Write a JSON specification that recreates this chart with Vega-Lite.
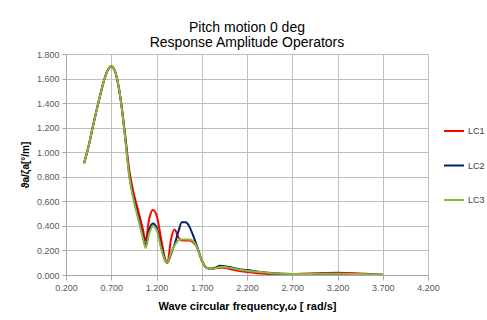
{
  "$schema": "https://vega.github.io/schema/vega-lite/v6.json",
  "width": 362,
  "height": 221,
  "autosize": {"type": "none"},
  "padding": {"left": 66, "top": 54, "right": 59, "bottom": 45},
  "background": "white",
  "title": {
    "text": ["Pitch motion 0 deg", "Response Amplitude Operators"],
    "font": "Liberation Sans",
    "fontSize": 14,
    "fontWeight": "normal",
    "color": "#000000",
    "lineHeight": 15,
    "anchor": "middle",
    "offset": 0
  },
  "data": {
    "values": [
      {"w": 0.40, "rao": 0.91, "lc": "LC1"}, {"w": 0.45, "rao": 1.05, "lc": "LC1"},
      {"w": 0.50, "rao": 1.22, "lc": "LC1"}, {"w": 0.55, "rao": 1.38, "lc": "LC1"},
      {"w": 0.60, "rao": 1.53, "lc": "LC1"}, {"w": 0.65, "rao": 1.65, "lc": "LC1"},
      {"w": 0.70, "rao": 1.70, "lc": "LC1"}, {"w": 0.75, "rao": 1.64, "lc": "LC1"},
      {"w": 0.80, "rao": 1.45, "lc": "LC1"}, {"w": 0.85, "rao": 1.16, "lc": "LC1"},
      {"w": 0.90, "rao": 0.85, "lc": "LC1"}, {"w": 0.95, "rao": 0.66, "lc": "LC1"},
      {"w": 1.00, "rao": 0.52, "lc": "LC1"}, {"w": 1.05, "rao": 0.37, "lc": "LC1"},
      {"w": 1.08, "rao": 0.28, "lc": "LC1"}, {"w": 1.12, "rao": 0.46, "lc": "LC1"},
      {"w": 1.16, "rao": 0.53, "lc": "LC1"}, {"w": 1.20, "rao": 0.49, "lc": "LC1"},
      {"w": 1.25, "rao": 0.30, "lc": "LC1"}, {"w": 1.30, "rao": 0.12, "lc": "LC1"},
      {"w": 1.32, "rao": 0.10, "lc": "LC1"}, {"w": 1.36, "rao": 0.29, "lc": "LC1"},
      {"w": 1.40, "rao": 0.37, "lc": "LC1"}, {"w": 1.44, "rao": 0.31, "lc": "LC1"},
      {"w": 1.48, "rao": 0.28, "lc": "LC1"}, {"w": 1.52, "rao": 0.28, "lc": "LC1"},
      {"w": 1.56, "rao": 0.28, "lc": "LC1"}, {"w": 1.60, "rao": 0.27, "lc": "LC1"},
      {"w": 1.65, "rao": 0.22, "lc": "LC1"}, {"w": 1.70, "rao": 0.12, "lc": "LC1"},
      {"w": 1.75, "rao": 0.06, "lc": "LC1"}, {"w": 1.80, "rao": 0.05, "lc": "LC1"},
      {"w": 1.85, "rao": 0.055, "lc": "LC1"}, {"w": 1.90, "rao": 0.06, "lc": "LC1"},
      {"w": 1.95, "rao": 0.06, "lc": "LC1"}, {"w": 2.00, "rao": 0.05, "lc": "LC1"},
      {"w": 2.10, "rao": 0.035, "lc": "LC1"}, {"w": 2.20, "rao": 0.025, "lc": "LC1"},
      {"w": 2.40, "rao": 0.01, "lc": "LC1"}, {"w": 2.60, "rao": 0.005, "lc": "LC1"},
      {"w": 2.80, "rao": 0.01, "lc": "LC1"}, {"w": 3.00, "rao": 0.015, "lc": "LC1"},
      {"w": 3.20, "rao": 0.018, "lc": "LC1"}, {"w": 3.40, "rao": 0.015, "lc": "LC1"},
      {"w": 3.60, "rao": 0.005, "lc": "LC1"}, {"w": 3.70, "rao": 0.002, "lc": "LC1"},

      {"w": 0.40, "rao": 0.91, "lc": "LC2"}, {"w": 0.45, "rao": 1.05, "lc": "LC2"},
      {"w": 0.50, "rao": 1.22, "lc": "LC2"}, {"w": 0.55, "rao": 1.38, "lc": "LC2"},
      {"w": 0.60, "rao": 1.53, "lc": "LC2"}, {"w": 0.65, "rao": 1.65, "lc": "LC2"},
      {"w": 0.70, "rao": 1.70, "lc": "LC2"}, {"w": 0.75, "rao": 1.64, "lc": "LC2"},
      {"w": 0.80, "rao": 1.45, "lc": "LC2"}, {"w": 0.85, "rao": 1.15, "lc": "LC2"},
      {"w": 0.90, "rao": 0.81, "lc": "LC2"}, {"w": 0.95, "rao": 0.62, "lc": "LC2"},
      {"w": 1.00, "rao": 0.47, "lc": "LC2"}, {"w": 1.05, "rao": 0.32, "lc": "LC2"},
      {"w": 1.08, "rao": 0.24, "lc": "LC2"}, {"w": 1.12, "rao": 0.37, "lc": "LC2"},
      {"w": 1.16, "rao": 0.42, "lc": "LC2"}, {"w": 1.20, "rao": 0.39, "lc": "LC2"},
      {"w": 1.25, "rao": 0.24, "lc": "LC2"}, {"w": 1.30, "rao": 0.11, "lc": "LC2"},
      {"w": 1.32, "rao": 0.10, "lc": "LC2"}, {"w": 1.36, "rao": 0.17, "lc": "LC2"},
      {"w": 1.40, "rao": 0.25, "lc": "LC2"}, {"w": 1.44, "rao": 0.35, "lc": "LC2"},
      {"w": 1.48, "rao": 0.43, "lc": "LC2"}, {"w": 1.52, "rao": 0.43, "lc": "LC2"},
      {"w": 1.56, "rao": 0.40, "lc": "LC2"}, {"w": 1.60, "rao": 0.33, "lc": "LC2"},
      {"w": 1.65, "rao": 0.23, "lc": "LC2"}, {"w": 1.70, "rao": 0.12, "lc": "LC2"},
      {"w": 1.75, "rao": 0.06, "lc": "LC2"}, {"w": 1.80, "rao": 0.05, "lc": "LC2"},
      {"w": 1.85, "rao": 0.06, "lc": "LC2"}, {"w": 1.90, "rao": 0.075, "lc": "LC2"},
      {"w": 1.95, "rao": 0.072, "lc": "LC2"}, {"w": 2.00, "rao": 0.065, "lc": "LC2"},
      {"w": 2.10, "rao": 0.05, "lc": "LC2"}, {"w": 2.20, "rao": 0.04, "lc": "LC2"},
      {"w": 2.40, "rao": 0.02, "lc": "LC2"}, {"w": 2.60, "rao": 0.01, "lc": "LC2"},
      {"w": 2.80, "rao": 0.008, "lc": "LC2"}, {"w": 3.00, "rao": 0.01, "lc": "LC2"},
      {"w": 3.20, "rao": 0.01, "lc": "LC2"}, {"w": 3.40, "rao": 0.008, "lc": "LC2"},
      {"w": 3.60, "rao": 0.005, "lc": "LC2"}, {"w": 3.70, "rao": 0.002, "lc": "LC2"},

      {"w": 0.40, "rao": 0.91, "lc": "LC3"}, {"w": 0.45, "rao": 1.05, "lc": "LC3"},
      {"w": 0.50, "rao": 1.22, "lc": "LC3"}, {"w": 0.55, "rao": 1.38, "lc": "LC3"},
      {"w": 0.60, "rao": 1.53, "lc": "LC3"}, {"w": 0.65, "rao": 1.65, "lc": "LC3"},
      {"w": 0.70, "rao": 1.70, "lc": "LC3"}, {"w": 0.75, "rao": 1.64, "lc": "LC3"},
      {"w": 0.80, "rao": 1.45, "lc": "LC3"}, {"w": 0.85, "rao": 1.14, "lc": "LC3"},
      {"w": 0.90, "rao": 0.80, "lc": "LC3"}, {"w": 0.95, "rao": 0.60, "lc": "LC3"},
      {"w": 1.00, "rao": 0.45, "lc": "LC3"}, {"w": 1.05, "rao": 0.30, "lc": "LC3"},
      {"w": 1.08, "rao": 0.22, "lc": "LC3"}, {"w": 1.12, "rao": 0.34, "lc": "LC3"},
      {"w": 1.16, "rao": 0.40, "lc": "LC3"}, {"w": 1.20, "rao": 0.37, "lc": "LC3"},
      {"w": 1.25, "rao": 0.22, "lc": "LC3"}, {"w": 1.30, "rao": 0.11, "lc": "LC3"},
      {"w": 1.32, "rao": 0.10, "lc": "LC3"}, {"w": 1.36, "rao": 0.18, "lc": "LC3"},
      {"w": 1.40, "rao": 0.24, "lc": "LC3"}, {"w": 1.44, "rao": 0.28, "lc": "LC3"},
      {"w": 1.48, "rao": 0.29, "lc": "LC3"}, {"w": 1.52, "rao": 0.29, "lc": "LC3"},
      {"w": 1.56, "rao": 0.29, "lc": "LC3"}, {"w": 1.60, "rao": 0.28, "lc": "LC3"},
      {"w": 1.65, "rao": 0.22, "lc": "LC3"}, {"w": 1.70, "rao": 0.12, "lc": "LC3"},
      {"w": 1.75, "rao": 0.06, "lc": "LC3"}, {"w": 1.80, "rao": 0.05, "lc": "LC3"},
      {"w": 1.85, "rao": 0.055, "lc": "LC3"}, {"w": 1.90, "rao": 0.065, "lc": "LC3"},
      {"w": 1.95, "rao": 0.065, "lc": "LC3"}, {"w": 2.00, "rao": 0.06, "lc": "LC3"},
      {"w": 2.10, "rao": 0.045, "lc": "LC3"}, {"w": 2.20, "rao": 0.035, "lc": "LC3"},
      {"w": 2.40, "rao": 0.02, "lc": "LC3"}, {"w": 2.60, "rao": 0.01, "lc": "LC3"},
      {"w": 2.80, "rao": 0.008, "lc": "LC3"}, {"w": 3.00, "rao": 0.01, "lc": "LC3"},
      {"w": 3.20, "rao": 0.01, "lc": "LC3"}, {"w": 3.40, "rao": 0.008, "lc": "LC3"},
      {"w": 3.60, "rao": 0.005, "lc": "LC3"}, {"w": 3.70, "rao": 0.002, "lc": "LC3"}
    ]
  },
  "mark": {"type": "line", "interpolate": "monotone", "strokeWidth": 2, "clip": true},
  "encoding": {
    "x": {
      "field": "w",
      "type": "quantitative",
      "scale": {"domain": [0.2, 4.2], "nice": false, "zero": false},
      "axis": {
        "values": [0.2, 0.7, 1.2, 1.7, 2.2, 2.7, 3.2, 3.7, 4.2],
        "format": ".3f",
        "labelFlush": false,
        "title": "Wave circular frequency,ω [ rad/s]",
        "titleFont": "Liberation Sans",
        "titleFontSize": 11,
        "titleFontWeight": "bold",
        "titleColor": "#000000",
        "titlePadding": 8,
        "labelFont": "Liberation Sans",
        "labelFontSize": 9,
        "labelColor": "#595959",
        "labelPadding": 3,
        "tickColor": "#A6A6A6",
        "tickSize": 5,
        "domainColor": "#A6A6A6",
        "gridColor": "#BFBFBF",
        "grid": true
      }
    },
    "y": {
      "field": "rao",
      "type": "quantitative",
      "scale": {"domain": [0, 1.8], "nice": false},
      "axis": {
        "values": [0, 0.2, 0.4, 0.6, 0.8, 1.0, 1.2, 1.4, 1.6, 1.8],
        "format": ".3f",
        "labelFlush": false,
        "title": "ϑa/ζa[°/m]",
        "titleFont": "Liberation Sans",
        "titleFontSize": 10,
        "titleFontWeight": "bold",
        "titleColor": "#000000",
        "titlePadding": 6,
        "labelFont": "Liberation Sans",
        "labelFontSize": 9,
        "labelColor": "#595959",
        "labelPadding": 3,
        "tickColor": "#A6A6A6",
        "tickSize": 4,
        "domainColor": "#A6A6A6",
        "gridColor": "#BFBFBF",
        "grid": true
      }
    },
    "color": {
      "field": "lc",
      "type": "nominal",
      "scale": {"domain": ["LC1", "LC2", "LC3"], "range": ["#FF0000", "#002060", "#8DB63C"]},
      "legend": {
        "title": null,
        "orient": "none",
        "legendX": 377,
        "legendY": 66,
        "symbolType": "stroke",
        "symbolSize": 400,
        "symbolStrokeWidth": 2,
        "rowPadding": 18.5,
        "labelFont": "Liberation Sans",
        "labelFontSize": 9,
        "labelColor": "#404040",
        "labelOffset": 3
      }
    }
  },
  "config": {
    "view": {"stroke": null}
  }
}
